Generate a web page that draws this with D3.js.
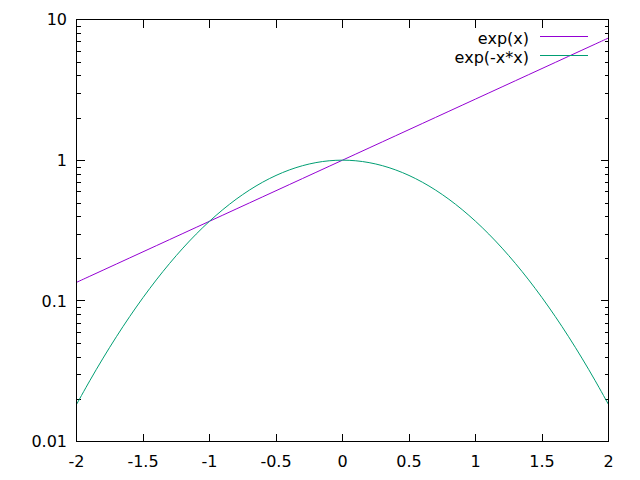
<!DOCTYPE html>
<html><head><meta charset="utf-8">
<script src="https://cdn.jsdelivr.net/npm/d3@7"></script>
<style>html,body{margin:0;padding:0;background:#fff;}svg{display:block;}</style>
</head><body>
<svg id="c" width="640" height="480"></svg>
<script>
const xs = [-2,-1.9,-1.8,-1.7,-1.6,-1.5,-1.4,-1.3,-1.2,-1.1,-1,-0.9,-0.8,-0.7,-0.6,-0.5,-0.4,-0.3,-0.2,-0.1,0,0.1,0.2,0.3,0.4,0.5,0.6,0.7,0.8,0.9,1,1.1,1.2,1.3,1.4,1.5,1.6,1.7,1.8,1.9,2];
const expX = [0.135335,0.149569,0.165299,0.182684,0.201897,0.223130,0.246597,0.272532,0.301194,0.332871,0.367879,0.406570,0.449329,0.496585,0.548812,0.606531,0.670320,0.740818,0.818731,0.904837,1,1.105171,1.221403,1.349859,1.491825,1.648721,1.822119,2.013753,2.225541,2.459603,2.718282,3.004166,3.320117,3.669297,4.055200,4.481689,4.953032,5.473947,6.049647,6.685894,7.389056];
const expNegX2 = [0.018316,0.027052,0.039164,0.055576,0.077305,0.105399,0.140858,0.184520,0.236928,0.298197,0.367879,0.444858,0.527292,0.612626,0.697676,0.778801,0.852144,0.913931,0.960789,0.990050,1,0.990050,0.960789,0.913931,0.852144,0.778801,0.697676,0.612626,0.527292,0.444858,0.367879,0.298197,0.236928,0.184520,0.140858,0.105399,0.077305,0.055576,0.039164,0.027052,0.018316];
const seriesNames = ["exp(x)","exp(-x*x)"];
const seriesColors = ["#9400d3","#009e73"];
const xTicks = [-2,-1.5,-1,-0.5,0,0.5,1,1.5,2];
const xTickLabels = ["-2","-1.5","-1","-0.5","0","0.5","1","1.5","2"];
const yTicks = [0.01,0.1,1,10];
const yTickLabels = ["0.01","0.1","1","10"];

const L=76.5, R=608.5, T=19.5, B=441.5;
const svg = d3.select("#c");
const font = "DejaVu Sans, sans-serif", fs = "16px";
const x = d3.scaleLinear().domain([-2,2]).range([L,R]);
const y = d3.scaleLog().domain([0.01,10]).range([B,T]);

// minor ticks
const minors=[];
for (let d=0.01; d<10; d*=10) for (let k=2;k<=9;k++) minors.push(+(d*k).toPrecision(3));
const g = svg.append("g").attr("stroke","#000").attr("stroke-width",1).attr("shape-rendering","crispEdges");
minors.forEach(v=>{
  const yy=Math.round(y(v))+0.5;
  g.append("line").attr("x1",L).attr("x2",L+4).attr("y1",yy).attr("y2",yy);
  g.append("line").attr("x1",R).attr("x2",R-4).attr("y1",yy).attr("y2",yy);
});
yTicks.forEach(v=>{
  const yy=Math.round(y(v)-0.5)+0.5;
  g.append("line").attr("x1",L).attr("x2",L+8).attr("y1",yy).attr("y2",yy);
  g.append("line").attr("x1",R).attr("x2",R-8).attr("y1",yy).attr("y2",yy);
});
xTicks.forEach(v=>{
  const xx=Math.round(x(v)-0.5)+0.5;
  g.append("line").attr("x1",xx).attr("x2",xx).attr("y1",B).attr("y2",B-8);
  g.append("line").attr("x1",xx).attr("x2",xx).attr("y1",T).attr("y2",T+8);
});

// labels
yTicks.forEach((v,i)=>{
  svg.append("text").attr("x",67).attr("y",y(v)+5.8).attr("text-anchor","end")
    .attr("font-family",font).attr("font-size",fs).attr("fill","#000").text(yTickLabels[i]);
});
xTicks.forEach((v,i)=>{
  svg.append("text").attr("x",x(v)).attr("y",467).attr("text-anchor","middle")
    .attr("font-family",font).attr("font-size",fs).attr("fill","#000").text(xTickLabels[i]);
});

// curves
svg.append("clipPath").attr("id","clp").append("rect").attr("x",L).attr("y",T).attr("width",R-L).attr("height",B-T);
const line = d3.line().x(d=>x(d[0])).y(d=>y(d[1])).curve(d3.curveCatmullRom);
[expX, expNegX2].forEach((arr,i)=>{
  svg.append("path").datum(xs.map((xv,j)=>[xv,arr[j]]))
    .attr("d",line).attr("fill","none").attr("stroke",seriesColors[i]).attr("stroke-width",1)
    .attr("clip-path","url(#clp)");
});

// legend
const legY=[36.5,55.5];
seriesNames.forEach((n,i)=>{
  svg.append("text").attr("x",529).attr("y",legY[i]+7).attr("text-anchor","end")
    .attr("font-family",font).attr("font-size",fs).attr("fill","#000").text(n);
  svg.append("line").attr("x1",540).attr("x2",588).attr("y1",legY[i]).attr("y2",legY[i])
    .attr("stroke",seriesColors[i]).attr("stroke-width",1);
});

// frame
svg.append("rect").attr("x",L).attr("y",T).attr("width",R-L).attr("height",B-T)
  .attr("fill","none").attr("stroke","#000").attr("stroke-width",1).attr("shape-rendering","crispEdges");
</script>
</body></html>
